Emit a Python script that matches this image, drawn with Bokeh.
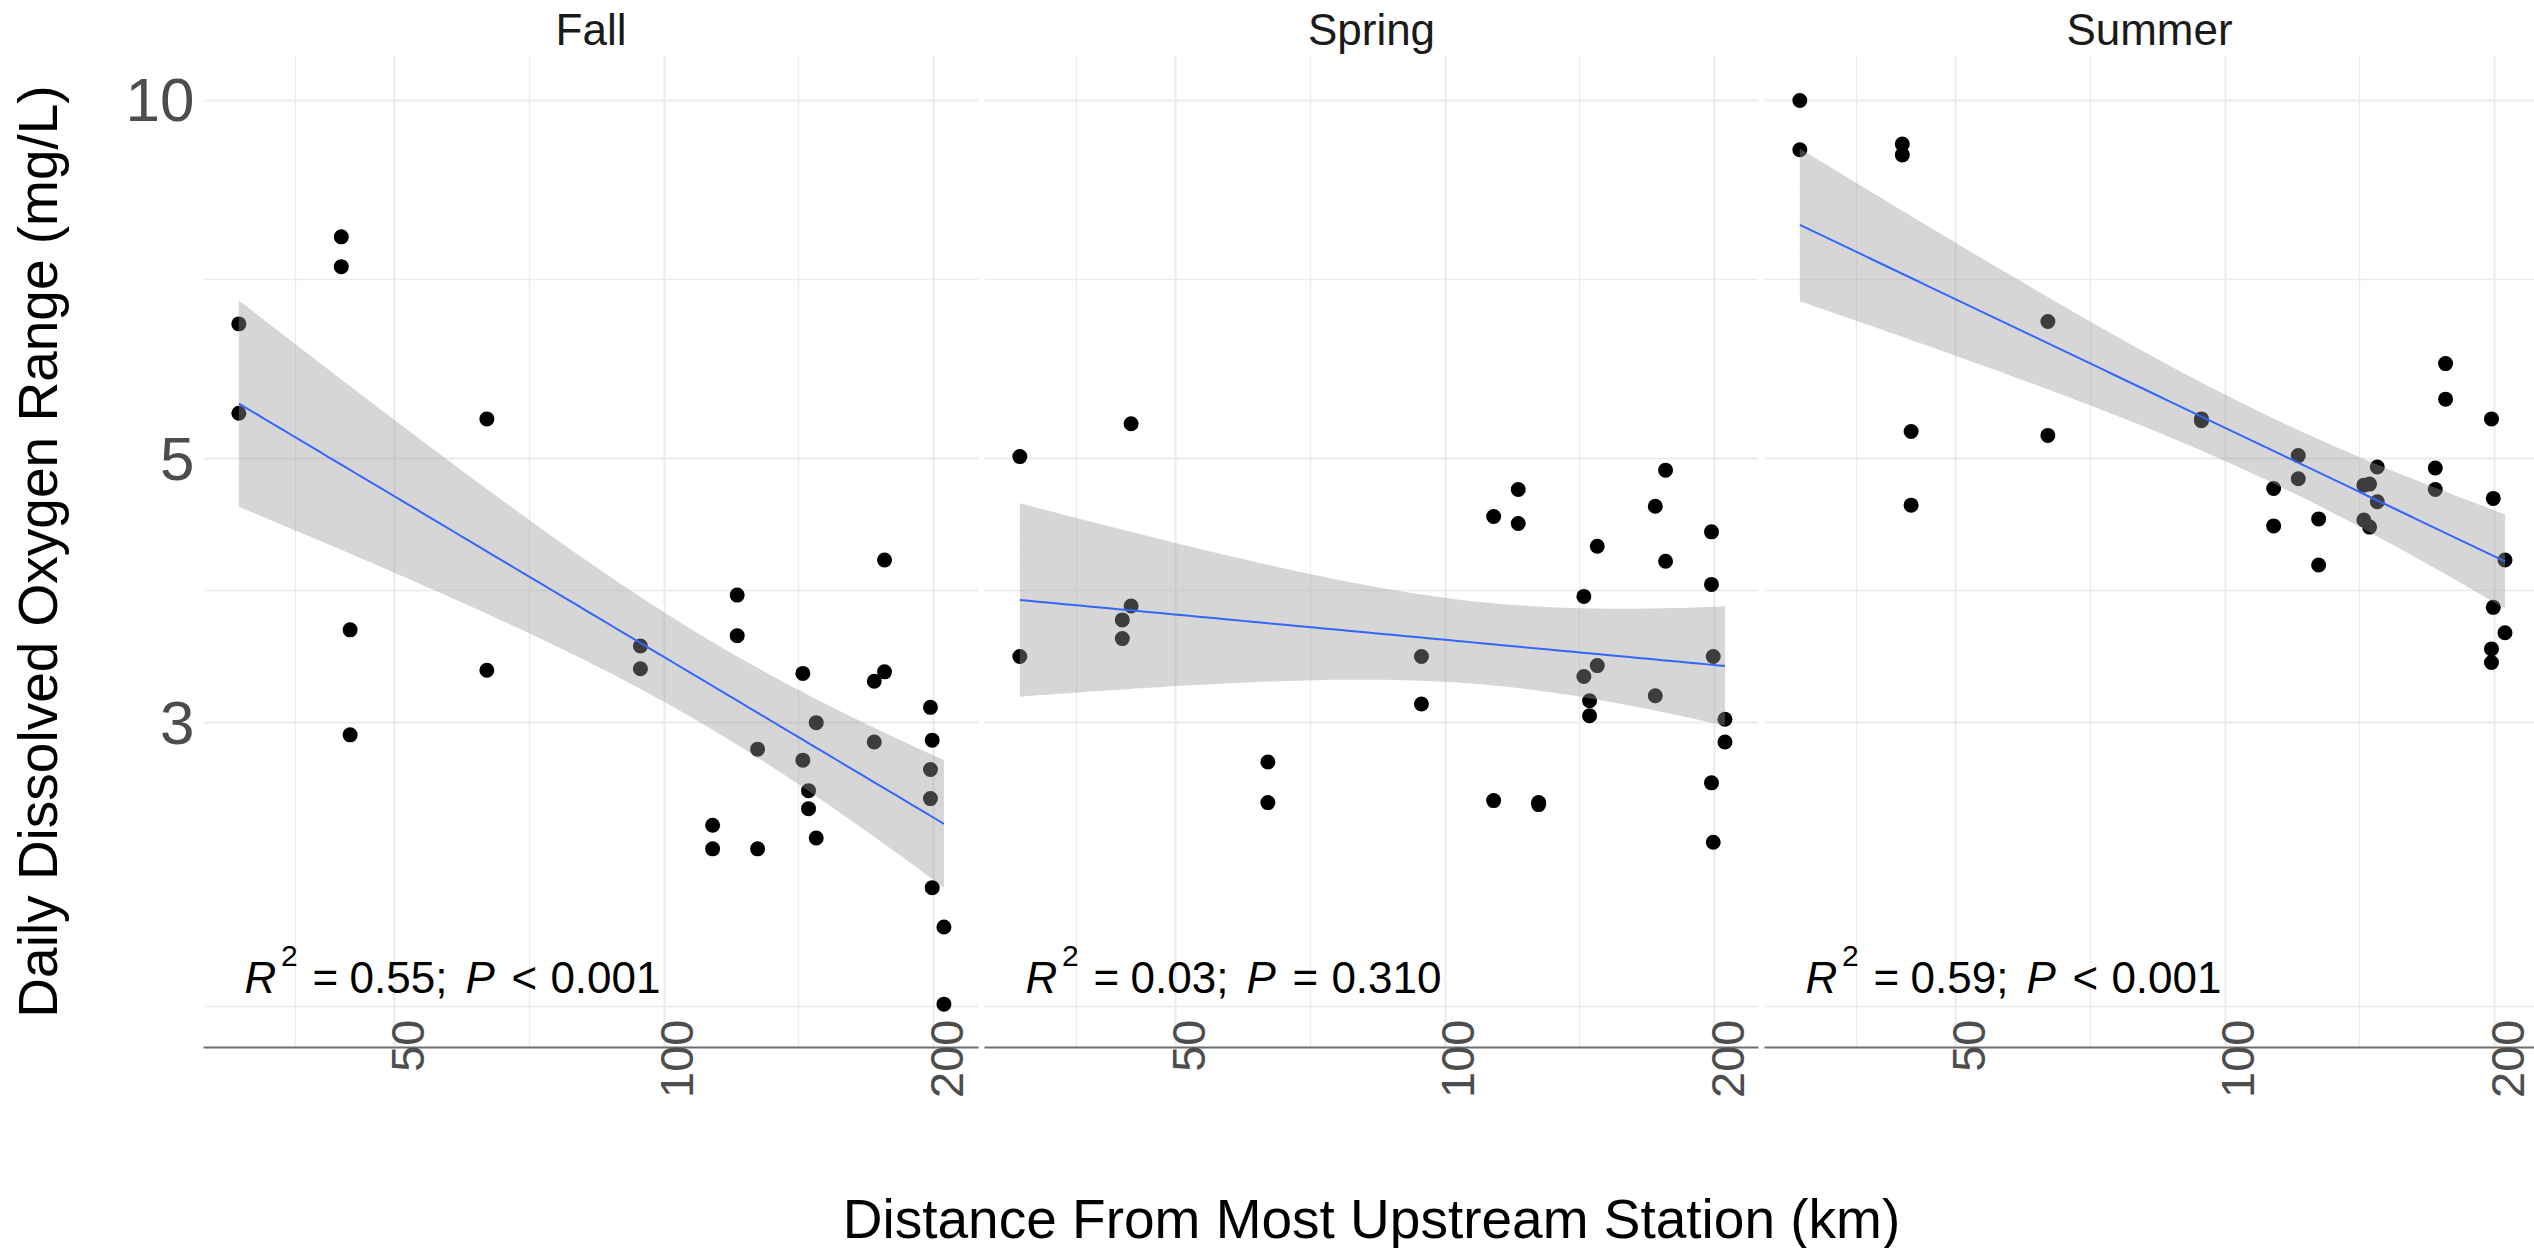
import numpy as np
from bokeh.plotting import figure
from bokeh.layouts import row, column
from bokeh.models import FixedTicker, CustomJSTickFormatter, Range1d
from bokeh.core.properties import value
from bokeh.embed import file_html
from bokeh.resources import INLINE

# ---------------- data ----------------
seasons = ["Fall", "Spring", "Summer"]

fall_km = [33.5, 33.5, 43.6, 43.6, 44.6, 44.6, 63.4, 63.4, 94.1, 94.1, 113.3, 113.3,
           120.7, 120.7, 127.2, 127.2, 142.9, 142.9, 145.0, 145.0, 147.9, 147.9,
           171.7, 171.7, 176.3, 176.3, 198.4, 199.3, 198.4, 198.4, 199.3, 205.4, 205.4]
fall_do = [6.49, 5.46, 7.68, 7.25, 3.59, 2.93, 5.40, 3.32, 3.48, 3.33, 2.46, 2.35,
           3.84, 3.55, 2.85, 2.35, 3.30, 2.79, 2.63, 2.54, 3.00, 2.40,
           3.25, 2.89, 4.11, 3.31, 3.09, 2.90, 2.74, 2.59, 2.18, 2.02, 1.74]

spring_km = [33.5, 33.5, 43.6, 43.6, 44.6, 44.6, 63.4, 63.4, 94.1, 94.1, 113.3, 113.3,
             120.7, 120.7, 127.2, 127.2, 142.9, 142.9, 145.0, 145.0, 147.9, 147.9,
             171.7, 171.7, 176.3, 176.3, 198.4, 198.4, 198.4, 199.3, 199.3, 205.4, 205.4]
spring_do = [5.02, 3.41, 3.66, 3.53, 5.35, 3.76, 2.78, 2.57, 3.41, 3.11, 4.47, 2.58,
             4.71, 4.41, 2.56, 2.57, 3.83, 3.28, 3.13, 3.04, 4.22, 3.35,
             4.56, 3.16, 4.89, 4.10, 4.34, 3.92, 2.67, 3.41, 2.38, 3.02, 2.89]

summer_km = [33.5, 33.5, 43.6, 43.6, 44.6, 44.6, 63.4, 63.4, 94.1, 94.1, 113.3, 113.3,
             120.7, 120.7, 127.2, 127.2, 142.9, 142.9, 145.0, 145.0, 147.9, 147.9,
             171.7, 171.7, 176.3, 176.3, 198.4, 199.3, 199.3, 198.4, 198.4, 205.4, 205.4]
summer_do = [10.0, 9.09, 9.19, 9.00, 5.27, 4.57, 6.52, 5.23, 5.40, 5.38, 4.72, 4.39,
             5.03, 4.81, 4.45, 4.07, 4.75, 4.44, 4.76, 4.38, 4.92, 4.60,
             4.91, 4.71, 6.01, 5.61, 5.40, 4.63, 3.75, 3.46, 3.37, 4.11, 3.57]

r2_values = ["0.55", "0.03", "0.59"]
p_relations = ["<", "=", "<"]
p_values = ["0.001", "0.310", "0.001"]

x_ticks = [50, 100, 200]
x_tick_labels = ["50", "100", "200"]
x_minor = [38.73, 70.71, 141.42]
y_ticks = [3, 5, 10]
y_tick_labels = ["3", "5", "10"]
y_minor = [1.732, 3.873, 7.071]

x_title = "Distance From Most Upstream Station (km)"
y_title = "Daily Dissolved Oxygen Range (mg/L)"

# ---------------- styling / layout ----------------
FONT = "Liberation Sans"
GRID = "#EBEBEB"
LABEL_SHIFT = 1.034
X_START = 30.59
Y_RANGE = (1.600, 10.909)
ANN_X, ANN_Y = 34.0, 1.784
W_TOTAL = 2534
LEFT = 203
FRAMES = [775, 774, 770]
GAP = 3
PANEL_H = 1168
TITLE_H = 1248 - PANEL_H


def t975(df):
    z = 1.959964
    return (z + (z**3 + z) / (4 * df) + (5 * z**5 + 16 * z**3 + 3 * z) / (96 * df**2)
            + (3 * z**7 + 19 * z**5 + 17 * z**3 - 15 * z) / (384 * df**3))


def smooth(km, do):
    x = np.log10(np.asarray(km, float))
    y = np.log10(np.asarray(do, float))
    n = len(x)
    b1, b0 = np.polyfit(x, y, 1)
    resid = y - (b0 + b1 * x)
    s = np.sqrt(np.sum(resid ** 2) / (n - 2))
    xs = np.linspace(x.min(), x.max(), 80)
    fit = b0 + b1 * xs
    se = s * np.sqrt(1.0 / n + (xs - x.mean()) ** 2 / np.sum((x - x.mean()) ** 2))
    t = t975(n - 2)
    return 10 ** xs, 10 ** fit, 10 ** (fit - t * se), 10 ** (fit + t * se)


def make_panel(i, season, km, do, frame_w, left, right, x_end):
    p = figure(width=left + frame_w + right, height=PANEL_H,
               x_axis_type="log", y_axis_type="log",
               x_range=Range1d(X_START, x_end), y_range=Range1d(*Y_RANGE),
               output_backend="svg", toolbar_location=None,
               min_border_left=left, min_border_right=right,
               min_border_top=55, min_border_bottom=PANEL_H - 1047,
               y_axis_location="left" if i == 0 else None)
    p.outline_line_color = None
    p.background_fill_color = "white"
    p.border_fill_color = "white"

    # strip title
    p.title.text = season
    p.title.align = "center"
    p.title.text_font = FONT
    p.title.text_font_size = "44px"
    p.title.text_font_style = "normal"
    p.title.text_color = "#1A1A1A"
    p.title.standoff = 4

    # x axis (labels read bottom-to-top)
    xa = p.xaxis[0]
    xa.ticker = FixedTicker(ticks=[t * LABEL_SHIFT for t in x_ticks], minor_ticks=[])
    xa.formatter = CustomJSTickFormatter(args=dict(labels=x_tick_labels), code="return labels[index];")
    xa.major_label_orientation = np.pi / 2
    xa.major_label_text_font = FONT
    xa.major_label_text_font_size = "47px"
    xa.major_label_text_color = "#4D4D4D"
    xa.major_label_standoff = -34
    xa.major_tick_line_color = None
    xa.minor_tick_line_color = None
    xa.axis_line_color = "#6E6E6E"
    xa.axis_line_width = 2

    if i == 0:
        ya = p.yaxis[0]
        ya.ticker = FixedTicker(ticks=y_ticks, minor_ticks=[])
        ya.formatter = CustomJSTickFormatter(args=dict(labels=y_tick_labels), code="return labels[index];")
        ya.major_label_text_font = FONT
        ya.major_label_text_font_size = "62px"
        ya.major_label_text_color = "#4D4D4D"
        ya.major_label_standoff = 3
        ya.major_tick_line_color = None
        ya.minor_tick_line_color = None
        ya.axis_line_color = None
        ya.axis_label = y_title
        ya.axis_label_text_font = FONT
        ya.axis_label_text_font_size = "55px"
        ya.axis_label_text_font_style = "normal"
        ya.axis_label_text_color = "black"
        ya.axis_label_standoff = 54

    # grids
    for g, tk, mn in ((p.xgrid[0], x_ticks, x_minor), (p.ygrid[0], y_ticks, y_minor)):
        g.ticker = FixedTicker(ticks=tk, minor_ticks=mn)
        g.grid_line_color = GRID
        g.grid_line_width = 2
        g.minor_grid_line_color = GRID
        g.minor_grid_line_width = 1.3

    # points, then smoothing band and line on top (as ggplot draws them)
    p.scatter(x=km, y=do, size=15, color="black", line_width=0)
    xs, fit, lo, hi = smooth(km, do)
    p.varea(x=xs, y1=lo, y2=hi, fill_color="#999999", fill_alpha=0.4)
    p.line(x=xs, y=fit, line_color="#3366FF", line_width=2)

    # annotation  R^2 = ..; P .. ..
    base = -14
    segs = [
        ("R", 0, 0, "44px", "italic"),
        ("2", 36.5, -21, "30px", "normal"),
        ("=", 67.8, 0, "44px", "normal"),
        (r2_values[i] + ";", 105, 0, "44px", "normal"),
        ("P", 220.8, 0, "44px", "italic"),
        (p_relations[i], 267, 0, "44px", "normal"),
        (p_values[i], 305.8, 0, "44px", "normal"),
    ]
    for txt, dx, dy, fs, style in segs:
        p.text(x=[ANN_X], y=[ANN_Y], text=[txt], x_offset=dx, y_offset=dy + base,
               text_font=value(FONT), text_font_size=fs, text_font_style=style,
               text_color="black", text_align="left", text_baseline="alphabetic")
    return p


p1 = make_panel(0, seasons[0], fall_km, fall_do, FRAMES[0], LEFT, GAP, 224.5)
p2 = make_panel(1, seasons[1], spring_km, spring_do, FRAMES[1], GAP, GAP, 223.9)
p3 = make_panel(2, seasons[2], summer_km, summer_do, FRAMES[2], GAP, 0, 221.6)

# shared x-axis title, centred under the middle panel
pb = figure(width=W_TOTAL, height=TITLE_H, x_range=Range1d(0, W_TOTAL), y_range=Range1d(0, TITLE_H),
            output_backend="svg", toolbar_location=None, title_location=None,
            x_axis_location=None, y_axis_location=None,
            min_border_left=0, min_border_right=0, min_border_top=0, min_border_bottom=0)
pb.outline_line_color = None
pb.background_fill_color = "white"
pb.border_fill_color = "white"
pb.xgrid.visible = False
pb.ygrid.visible = False
mid_center = LEFT + FRAMES[0] + 2 * GAP + FRAMES[1] / 2
pb.text(x=[mid_center], y=[13], text=[x_title], text_font=value(FONT), text_font_size="55px",
        text_color="black", text_align="center", text_baseline="alphabetic", y_offset=-17)

layout = column(row(p1, p2, p3, spacing=0), pb, spacing=0)
open("out.html", "w").write(file_html(layout, INLINE))
